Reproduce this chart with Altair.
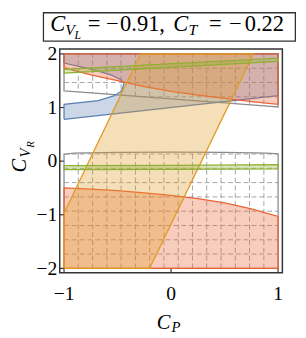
import altair as alt
import pandas as pd

# ---------------- data ----------------
ticks_x = [-1, 0, 1]
tick_labels_x = ["\u22121", "0", "1"]
ticks_y = [-2, -1, 0, 1, 2]

# dashed mesh of the gray region
mesh_x = [-0.867, -0.733, -0.6, -0.467, -0.333, -0.2, -0.067,
          0.067, 0.2, 0.333, 0.467, 0.6, 0.733, 0.867]
mesh_y = [-1.733, -1.467, -1.2, -0.933, -0.667, -0.4, -0.133,
          0.133, 0.4, 0.667, 0.933, 1.2, 1.467, 1.733]

# gray region: below the lower curve and above the upper line
gray_x = [-1, -0.9, -0.5, 0, 0.5, 0.9, 1]
gray_lower_edge = [0.13, 0.15, 0.165, 0.17, 0.165, 0.15, 0.135]
gray_upper_edge = [1.31, 1.295, 1.235, 1.16, 1.085, 1.025, 1.01]

# red region (two parts)
red_x = [-1, -0.75, -0.5, -0.25, 0, 0.25, 0.5, 0.75, 1]
red_upper_edge = [1.74, 1.61, 1.50, 1.39, 1.30, 1.23, 1.17, 1.11, 1.06]
red_lower_edge = [-0.50, -0.52, -0.55, -0.59, -0.64, -0.70, -0.78, -0.89, -1.03]

# orange slanted band
orange_x = [-1, -0.285, -0.2, 0.77]
orange_lo = [-2, -2, -2, 2]
orange_hi = [-0.97, 2, 2, 2]

# green thin bands
green1_x = [-1, 1]
green1_lo = [1.64, 1.86]
green1_hi = [1.71, 1.92]
green2_x = [-1, 0, 1]
green2_lo = [-0.16, -0.155, -0.145]
green2_hi = [-0.085, -0.08, -0.065]

# blue region outline (polygon, in drawing order)
blue_px = [-1, 1, 1, -1, -1, -0.84, -0.68, -0.55, -0.47, -0.44,
           -0.45, -0.47, -0.53, -0.68, -1, -1]
blue_py = [0.78, 1.22, 2, 2, 1.83, 1.76, 1.68, 1.60, 1.52, 1.45,
           1.38, 1.30, 1.22, 1.13, 1.06, 0.78]

X_MIN, X_MAX = -1, 1
Y_MIN, Y_MAX = -2, 2

# ---------------- styling ----------------
W, H = 228, 229
FONT = "Liberation Serif"
RED, ORANGE, BLUE, GREEN, GRAY = "#EB6235", "#E19C24", "#5E81B5", "#8FB032", "#8C8C8C"
FRAME = "#333333"
SW = 1.3
FOP = 0.32

xs = alt.Scale(domain=[-1.04, 1.04], nice=False, zero=False)
ys = alt.Scale(domain=[-2.08, 2.09], nice=False, zero=False)
yaxis = alt.Axis(values=ticks_y, title=None, grid=False, ticks=False, domain=False,
                 labelFont=FONT, labelFontSize=20, labelColor="black", format="d",
                 labelPadding=3, labelFlush=False, labelOverlap=False, labelBound=False,
                 labelExpr="replace(datum.label, '-', '\u2212')")


def X(f):
    return alt.X(f, type="quantitative", scale=xs, axis=None)


def Y(f):
    return alt.Y(f, type="quantitative", scale=ys, axis=yaxis)


# grid
vgrid = pd.DataFrame({"x": mesh_x, "y0": Y_MIN, "y1": Y_MAX})
hgrid = pd.DataFrame({"y": mesh_y, "x0": X_MIN, "x1": X_MAX})
grid_v = alt.Chart(vgrid).mark_rule(color="#9a9a9a", strokeWidth=0.9, strokeDash=[5, 3]).encode(
    x=X("x"), y=Y("y0"), y2="y1")
grid_h = alt.Chart(hgrid).mark_rule(color="#9a9a9a", strokeWidth=0.9, strokeDash=[5, 3]).encode(
    y=Y("y"), x=X("x0"), x2="x1")

gdf = pd.DataFrame({"x": gray_x, "lo": gray_lower_edge, "hi": gray_upper_edge,
                    "bot": Y_MIN, "top": Y_MAX})
white_band = alt.Chart(gdf).mark_area(color="white", opacity=1).encode(
    x=X("x"), y=Y("lo"), y2="hi")
gray_low = alt.Chart(gdf).mark_area(fillOpacity=0, stroke=GRAY, strokeWidth=SW).encode(
    x=X("x"), y=Y("bot"), y2="lo")
gray_up = alt.Chart(gdf).mark_area(fillOpacity=0, stroke=GRAY, strokeWidth=SW).encode(
    x=X("x"), y=Y("hi"), y2="top")

bdf = pd.DataFrame({"x": blue_px, "y": blue_py, "i": list(range(len(blue_px)))})
blue = alt.Chart(bdf).mark_line(fill=BLUE, fillOpacity=FOP, stroke=BLUE, strokeWidth=SW).encode(
    x=X("x"), y=Y("y"), order=alt.Order("i:Q"))

rdf = pd.DataFrame({"x": red_x, "up": red_upper_edge, "low": red_lower_edge,
                    "bot": Y_MIN, "top": Y_MAX})
red_up = alt.Chart(rdf).mark_area(fill=RED, fillOpacity=FOP, stroke=RED, strokeWidth=SW).encode(
    x=X("x"), y=Y("up"), y2="top")
red_low = alt.Chart(rdf).mark_area(fill=RED, fillOpacity=FOP, stroke=RED, strokeWidth=SW).encode(
    x=X("x"), y=Y("bot"), y2="low")

odf = pd.DataFrame({"x": orange_x, "lo": orange_lo, "hi": orange_hi})
orange = alt.Chart(odf).mark_area(fill=ORANGE, fillOpacity=FOP, stroke=ORANGE, strokeWidth=SW).encode(
    x=X("x"), y=Y("lo"), y2="hi")

g1 = pd.DataFrame({"x": green1_x, "lo": green1_lo, "hi": green1_hi})
g2 = pd.DataFrame({"x": green2_x, "lo": green2_lo, "hi": green2_hi})
green_a = alt.Chart(g1).mark_area(fill=GREEN, fillOpacity=FOP, stroke=GREEN, strokeWidth=SW).encode(
    x=X("x"), y=Y("lo"), y2="hi")
green_b = alt.Chart(g2).mark_area(fill=GREEN, fillOpacity=FOP, stroke=GREEN, strokeWidth=SW).encode(
    x=X("x"), y=Y("lo"), y2="hi")

# inward frame ticks
tx = alt.Chart(pd.DataFrame({"v": ticks_x})).mark_rule(color=FRAME, strokeWidth=1.2).encode(
    x=X("v"), y=alt.value(H), y2=alt.value(H - 4))
ty = alt.Chart(pd.DataFrame({"v": ticks_y})).mark_rule(color=FRAME, strokeWidth=1.2).encode(
    y=Y("v"), x=alt.value(0), x2=alt.value(4))

# x tick labels
xlab = alt.Chart(pd.DataFrame({"v": ticks_x, "t": tick_labels_x})).mark_text(
    font=FONT, fontSize=20, color="black", align="center", baseline="alphabetic").encode(
    x=X("v"), y=alt.value(H + 27.5), text="t:N")

one = pd.DataFrame({"a": [0]})


def txt(s, x, y, size, italic=True, angle=0):
    kw = dict(font=FONT, fontSize=size, align="left", baseline="alphabetic", color="black")
    if italic:
        kw["fontStyle"] = "italic"
    if angle:
        kw["angle"] = angle
    return alt.Chart(one).mark_text(**kw).encode(
        x=alt.value(x), y=alt.value(y), text=alt.value(s))


# title pieces: view x = page x - 60.7
TS, SS, SSS = 23, 16, 12
texts = [
    txt("C", -9.7, -18.5, TS), txt("V", 5.6, -14, SS), txt("L", 15.2, -10.5, SSS),
    txt("=", 28.8, -18.5, TS, False), txt("\u2212", 47.3, -18.5, TS, False),
    txt("0.91,", 61.8, -18.5, TS, False),
    txt("C", 116.3, -18.5, TS), txt("T", 131.8, -14, SS),
    txt("=", 152.8, -18.5, TS, False), txt("\u2212", 173.3, -18.5, TS, False),
    txt("0.22", 189.5, -18.5, TS, False),
    # x title
    txt("C", 99.3, 286.3, 21), txt("P", 114.5, 289.5, 15),
    # y title (rotated)
    txt("C", -35, 126.3, 21, True, 270), txt("V", -30, 111, 15, True, 270),
    txt("R", -26, 101, 11, True, 270),
]

box = alt.Chart(one).mark_rect(fillOpacity=0, stroke=FRAME, strokeWidth=1.3).encode(
    x=alt.value(-16.7), x2=alt.value(241.3), y=alt.value(-37.2), y2=alt.value(-8.2))

chart = alt.layer(
    grid_v, grid_h, white_band, gray_low, gray_up, blue, red_low, red_up, orange,
    green_a, green_b, tx, ty, xlab, box, *texts
).properties(
    width=W, height=H,
    autosize=alt.AutoSizeParams(type="none"),
    padding={"left": 53, "top": 38, "right": 16, "bottom": 70},
).configure_view(stroke=FRAME, strokeWidth=1.5)

chart.save("out.html", embed_options={"renderer": "svg", "actions": False})
